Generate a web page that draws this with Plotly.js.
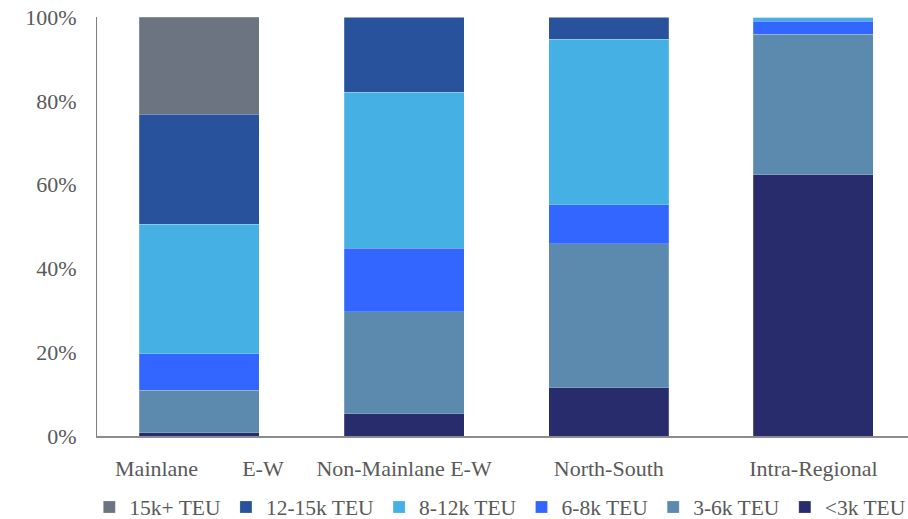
<!DOCTYPE html>
<html>
<head>
<meta charset="utf-8">
<script src="https://cdn.plot.ly/plotly-3.0.1.min.js"></script>
<style>html,body{margin:0;padding:0;background:#fff;}#chart{width:908px;height:519px;}</style>
</head>
<body>
<div id="chart"></div>
<script>
var categories = ['Mainlane\u00a0\u00a0\u00a0\u00a0\u00a0\u00a0\u00a0\u00a0E-W', 'Non-Mainlane E-W', 'North-South', 'Intra-Regional'];
var seriesNames = ['<3k TEU', '3-6k TEU', '6-8k TEU', '8-12k TEU', '12-15k TEU', '15k+ TEU'];
var seriesColors = ['#282c6c', '#5b8aae', '#3366ff', '#45b0e3', '#28539c', '#6b7480'];
var lt3k   = [0.8, 5.3, 11.5, 62.3];
var k3to6  = [10.1, 24.4, 34.4, 33.6];
var k6to8  = [8.7, 15.1, 9.3, 3.1];
var k8to12 = [30.9, 37.3, 39.5, 1.0];
var k12to15 = [26.3, 17.9, 5.3, 0.0];
var k15plus = [23.2, 0.0, 0.0, 0.0];
var seriesValues = [lt3k, k3to6, k6to8, k8to12, k12to15, k15plus];
var yTicks = [0, 20, 40, 60, 80, 100];

var traces = seriesNames.map(function(name, i) {
  return {
    type: 'bar',
    name: name,
    x: categories,
    y: seriesValues[i],
    width: 0.586,
    marker: {color: seriesColors[i], line: {color: 'rgba(255,255,255,0.25)', width: 0.8}},
    hoverinfo: 'skip'
  };
});

var fam = 'Liberation Serif';
var font = {family: fam, size: 22, color: '#595959'};
var layout = {
  width: 908, height: 519,
  margin: {l: 0, r: 0, t: 17, b: 83, autoexpand: false},
  paper_bgcolor: '#fff', plot_bgcolor: 'rgba(0,0,0,0)',
  barmode: 'stack',
  font: font,
  showlegend: true,
  legend: {orientation: 'h', x: 0.551, xanchor: 'center', y: -0.1695, yanchor: 'middle',
           traceorder: 'reversed', font: {family: 'Liberation Serif', size: 21.5, color: '#595959'},
           itemwidth: 30},
  xaxis: {type: 'category', domain: [97 / 908, 1], range: [-0.5, 3.462], showgrid: false, zeroline: false,
          showline: true, linecolor: '#8c8c8c', linewidth: 2, ticks: '', ticklabelstandoff: 12,
          tickfont: font, fixedrange: true, automargin: false},
  yaxis: {range: [0, 100], tickvals: yTicks, ticktext: yTicks.map(function(v){return v + '%';}),
          showgrid: false, zeroline: false, showline: true, linecolor: '#7f7f7f', linewidth: 1,
          ticks: '', ticklabelstandoff: 15, tickfont: font, fixedrange: true, automargin: false}
};
Plotly.newPlot('chart', traces, layout, {displayModeBar: false, staticPlot: true});
</script>
</body>
</html>
